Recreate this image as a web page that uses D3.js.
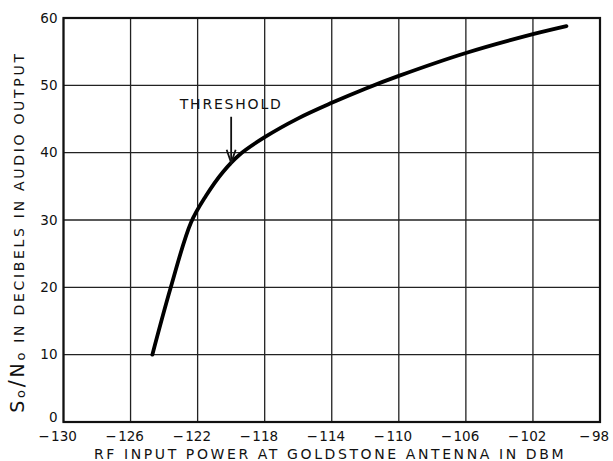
<!DOCTYPE html>
<html>
<head>
<meta charset="utf-8">
<script src="https://cdn.jsdelivr.net/npm/d3@7"></script>
<style>
  body { margin: 0; background: #fff; }
  svg { display: block; }
  text { font-family: "DejaVu Sans", sans-serif; fill: #111; }
</style>
</head>
<body>
<svg width="613" height="461"></svg>
<script>
// values
const inputPower = [-124.7, -123.6, -122.4, -121.5, -120.5, -119.5, -118, -116, -114, -112, -110, -106, -102, -100]
const snr = [10, 20, 29.6, 33.6, 37.1, 39.7, 42.3, 45.1, 47.4, 49.5, 51.4, 54.8, 57.6, 58.8]
const xTicks = [-130, -126, -122, -118, -114, -110, -106, -102, -98]
const yTicks = [0, 10, 20, 30, 40, 50, 60]
const threshold = { x: -120, y: 38.5 }

const svg = d3.select('svg')
const margin = { top: 18, right: 13, bottom: 39, left: 63.5 },
    width = +svg.attr('width') - margin.left - margin.right,
    height = +svg.attr('height') - margin.top - margin.bottom

const chart = svg.append('g')
    .attr('transform', `translate(${margin.left},${margin.top})`)

const x = d3.scaleLinear().domain([-130, -98]).range([0, width])
const y = d3.scaleLinear().domain([0, 60]).range([height, 0])

//grid
chart.append('g')
    .selectAll('line')
    .data(xTicks)
    .enter().append('line')
    .attr('x1', d => x(d)).attr('x2', d => x(d))
    .attr('y1', 0).attr('y2', height)
    .attr('stroke', '#222').attr('stroke-width', 1.3)
chart.append('g')
    .selectAll('line')
    .data(yTicks)
    .enter().append('line')
    .attr('y1', d => y(d)).attr('y2', d => y(d))
    .attr('x1', 0).attr('x2', width)
    .attr('stroke', '#222').attr('stroke-width', 1.3)

chart.append('rect')
    .attr('width', width).attr('height', height)
    .attr('fill', 'none').attr('stroke', '#111').attr('stroke-width', 2.2)

//axes (labels only); x labels: digits centred on the grid line, minus hangs left
const xAxis = chart.append('g')
    .attr('transform', `translate(0,${height})`)
    .call(d3.axisBottom(x).tickValues(xTicks).tickSize(0).tickPadding(9)
        .tickFormat(d => Math.abs(d)))
const yAxis = chart.append('g')
    .call(d3.axisLeft(y).tickValues(yTicks).tickSize(0).tickPadding(6))
xAxis.select('.domain').remove()
yAxis.select('.domain').remove()
chart.selectAll('.tick text')
    .attr('font-size', 13.5)
    .attr('font-family', '"DejaVu Sans", sans-serif')
    .attr('fill', '#111')
// the 0 sits a little above the corner
yAxis.selectAll('.tick').filter(d => d === 0).select('text').attr('y', -5)
xAxis.selectAll('.tick').each(function (d) {
    const t = d3.select(this).select('text')
    const w = t.node().getComputedTextLength()
    d3.select(this).append('text')
        .text('\u2212')
        .attr('x', -w / 2 - 1.5)
        .attr('y', t.attr('y'))
        .attr('dy', t.attr('dy'))
        .attr('text-anchor', 'end')
        .attr('font-size', 13.5)
        .attr('fill', '#111')
})

//curve
const points = inputPower.map((p, i) => [p, snr[i]])
chart.append('path')
    .datum(points)
    .attr('fill', 'none')
    .attr('stroke', '#000')
    .attr('stroke-width', 3.8)
    .attr('stroke-linecap', 'round')
    .attr('d', d3.line().x(d => x(d[0])).y(d => y(d[1])).curve(d3.curveCatmullRom.alpha(0.5)))

//threshold marker
const tx = x(threshold.x), ty = y(threshold.y)
chart.append('line')
    .attr('x1', tx).attr('x2', tx)
    .attr('y1', ty - 46).attr('y2', ty - 3)
    .attr('stroke', '#111').attr('stroke-width', 1.8)
chart.append('path')
    .attr('d', `M${tx - 4.5},${ty - 13} L${tx},${ty} L${tx + 4.5},${ty - 13}`)
    .attr('fill', 'none').attr('stroke', '#111').attr('stroke-width', 1.8)
chart.append('text')
    .text('THRESHOLD')
    .attr('x', tx)
    .attr('y', ty - 54)
    .attr('text-anchor', 'middle')
    .attr('font-size', 14)
    .attr('letter-spacing', 1.8)

//titles
svg.append('text')
    .text('RF INPUT POWER AT GOLDSTONE ANTENNA IN DBM')
    .attr('x', 330)
    .attr('y', 459)
    .attr('text-anchor', 'middle')
    .attr('font-size', 14)
    .attr('letter-spacing', 2.6)

const yTitle = svg.append('text')
    .attr('transform', 'translate(24,232) rotate(-90)')
    .attr('text-anchor', 'middle')
    .attr('font-size', 14)
    .attr('letter-spacing', 2.7)
yTitle.append('tspan').text('S').attr('font-size', 19)
yTitle.append('tspan').text('o').attr('font-size', 13).attr('dy', 1)
yTitle.append('tspan').text('/').attr('font-size', 21).attr('dy', -1)
yTitle.append('tspan').text('N').attr('font-size', 19)
yTitle.append('tspan').text('o').attr('font-size', 13).attr('dy', 1)
yTitle.append('tspan').text(' IN DECIBELS IN AUDIO OUTPUT').attr('dy', -1)
</script>
</body>
</html>
